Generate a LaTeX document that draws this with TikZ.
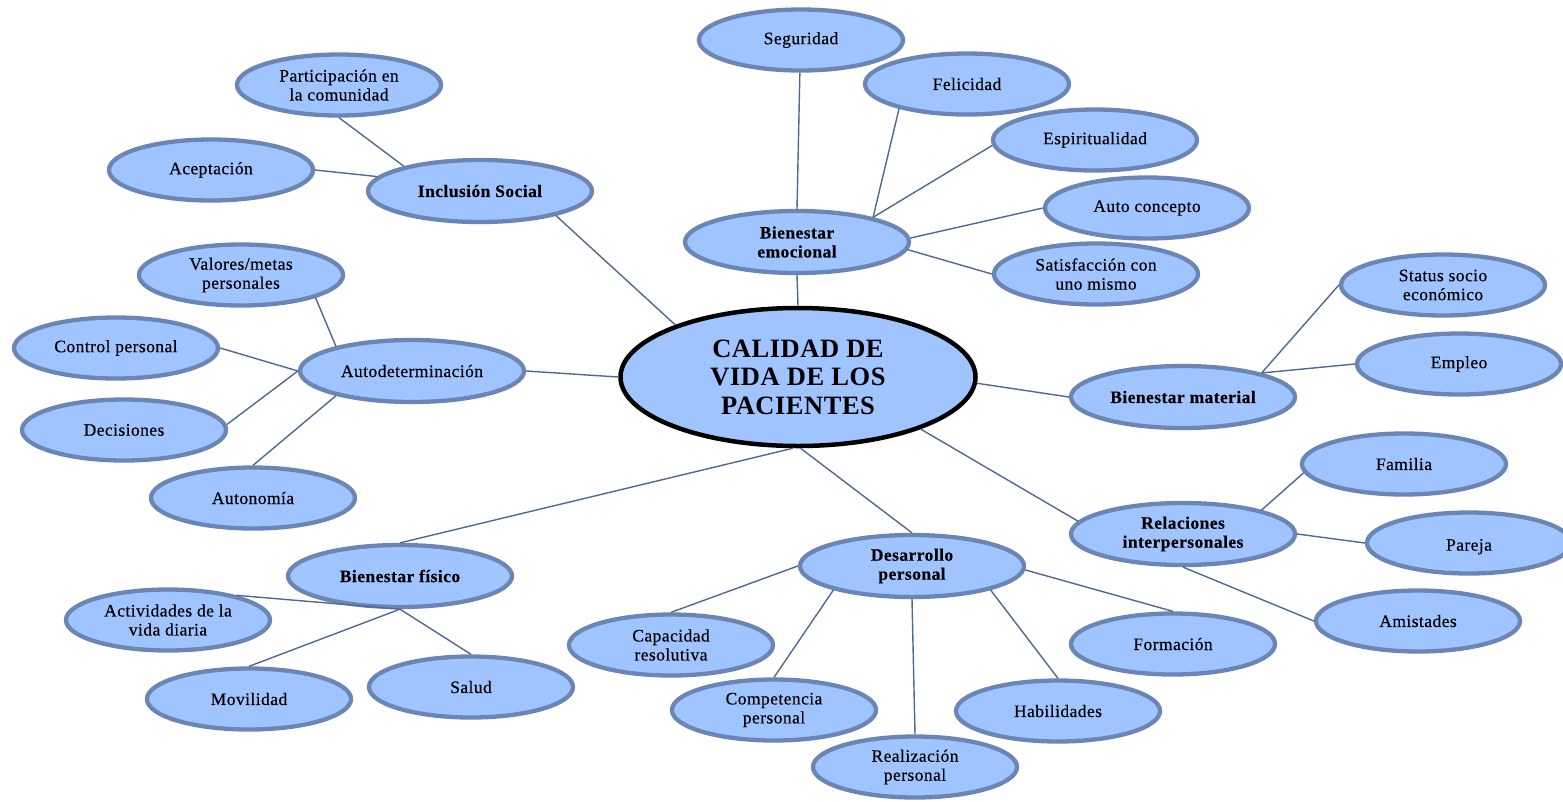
\documentclass[tikz,border=0pt]{standalone}
\usepackage{fontspec}
\setmainfont{Liberation Serif}
\newfontfamily\tnr{Liberation Serif}[LetterSpace=2.5, FakeBold=0.3]
\newfontfamily\tnrmain{Liberation Serif}[LetterSpace=2.0]
\usetikzlibrary{shapes.geometric}
\definecolor{fillc}{HTML}{A0C4FF}
\definecolor{bord}{HTML}{6B86B5}
\definecolor{linec}{HTML}{52698F}
\tikzset{
  leaf/.style={ellipse, draw=bord, line width=4.3pt, fill=fillc, minimum width=204pt, minimum height=61pt, inner sep=0pt, align=center, font=\tnr\fontsize{17.5}{19}\selectfont},
  cat/.style={leaf, minimum width=224pt, minimum height=62pt, font=\tnr\fontsize{17.5}{19}\selectfont\bfseries},
  mainnode/.style={ellipse, draw=black, line width=4.5pt, fill=fillc, minimum width=355pt, minimum height=138pt, inner sep=0pt, align=center, font=\tnrmain\fontsize{26.5}{28.5}\selectfont\bfseries},
  link/.style={draw=linec, line width=1.4pt}
}
\begin{document}
\begin{tikzpicture}[x=1pt,y=-1pt]
\useasboundingbox[fill=white] (0,0) rectangle (1563,801);
% centre
\node[mainnode] (main) at (798,377) {CALIDAD DE\\VIDA DE LOS\\PACIENTES};
% Bienestar emocional
\node[cat] (emo) at (797,242) {Bienestar\\emocional};
\node[leaf] (seg) at (801,40) {Seguridad};
\node[leaf] (feli) at (967,84) {Felicidad};
\node[leaf] (espi) at (1095,140) {Espiritualidad};
\node[leaf] (auto) at (1147,208) {Auto concepto};
\node[leaf] (sat) at (1096,274) {Satisfacción con\\uno mismo};
% Inclusion social
\node[cat] (inc) at (480,191) {Inclusión Social};
\node[leaf] (part) at (339,85) {Participación en\\la comunidad};
\node[leaf] (acep) at (211,170) {Aceptación};
% Autodeterminacion
\node[leaf, minimum width=224pt, minimum height=62pt] (autod) at (412,371) {Autodeterminación};
\node[leaf] (val) at (241,275) {Valores/metas\\personales};
\node[leaf] (ctrl) at (116,348) {Control personal};
\node[leaf] (dec) at (124,430) {Decisiones};
\node[leaf] (auton) at (253,498) {Autonomía};
% Bienestar material
\node[cat] (mat) at (1183,397) {Bienestar material};
\node[leaf] (stat) at (1443,285) {Status socio\\económico};
\node[leaf] (emp) at (1459,364) {Empleo};
% Relaciones interpersonales
\node[cat] (rel) at (1183,534) {Relaciones\\interpersonales};
\node[leaf] (fam) at (1404,464) {Familia};
\node[leaf] (par) at (1469,543) {\mbox{}\\Pareja};
\node[leaf] (ami) at (1418,621) {Amistades};
% Desarrollo personal
\node[cat] (des) at (912,566) {Desarrollo\\personal};
\node[leaf] (form) at (1173,644) {Formación};
\node[leaf] (hab) at (1058,711) {Habilidades};
\node[leaf] (real) at (915,767) {Realización\\personal};
\node[leaf] (comp) at (774,710) {Competencia\\personal};
\node[leaf] (cap) at (671,645) {Capacidad\\resolutiva};
% Bienestar fisico
\node[cat] (fis) at (400,576) {Bienestar físico};
\node[leaf] (act) at (168,620) {Actividades de la\\vida diaria};
\node[leaf] (mov) at (249,699) {Movilidad};
\node[leaf] (sal) at (471,687) {Salud};
% connectors
\draw[link] (emo.90) -- (seg.268);
\draw[link] (emo.18) -- (feli.200);
\draw[link] (emo.18) -- (espi.183);
\draw[link] (emo.2) -- (auto.180);
\draw[link] (emo.-4) -- (sat.180);
\draw[link] (emo.270) -- (main.90);
\draw[link] (inc.-18) -- (main.157);
\draw[link] (inc.162) -- (part.270);
\draw[link] (inc.172) -- (acep.0);
\draw[link] (autod.0) -- (main.180);
\draw[link] (autod.162) -- (val.-17);
\draw[link] (autod.180) -- (ctrl.0);
\draw[link] (autod.180) -- (dec.3);
\draw[link] (autod.198) -- (auton.90);
\draw[link] (main.-2) -- (mat.180);
\draw[link] (mat.17) -- (stat.180);
\draw[link] (mat.17) -- (emp.180);
\draw[link] (main.-23) -- (rel.173);
\draw[link] (rel.17) -- (fam.185);
\draw[link] (rel.0) -- (par.180);
\draw[link] (rel.270) -- (ami.180);
\draw[link] (main.272) -- (des.90);
\draw[link] (des.180) -- (cap.90);
\draw[link] (des.197) -- (comp.90);
\draw[link] (des.270) -- (real.90);
\draw[link] (des.-17) -- (hab.90);
\draw[link] (des.-2) -- (form.90);
\draw[link] (main.266) -- (fis.90);
\draw[link] (fis.270) -- (act.20);
\draw[link] (fis.270) -- (mov.90);
\draw[link] (fis.270) -- (sal.90);
\end{tikzpicture}
\end{document}
